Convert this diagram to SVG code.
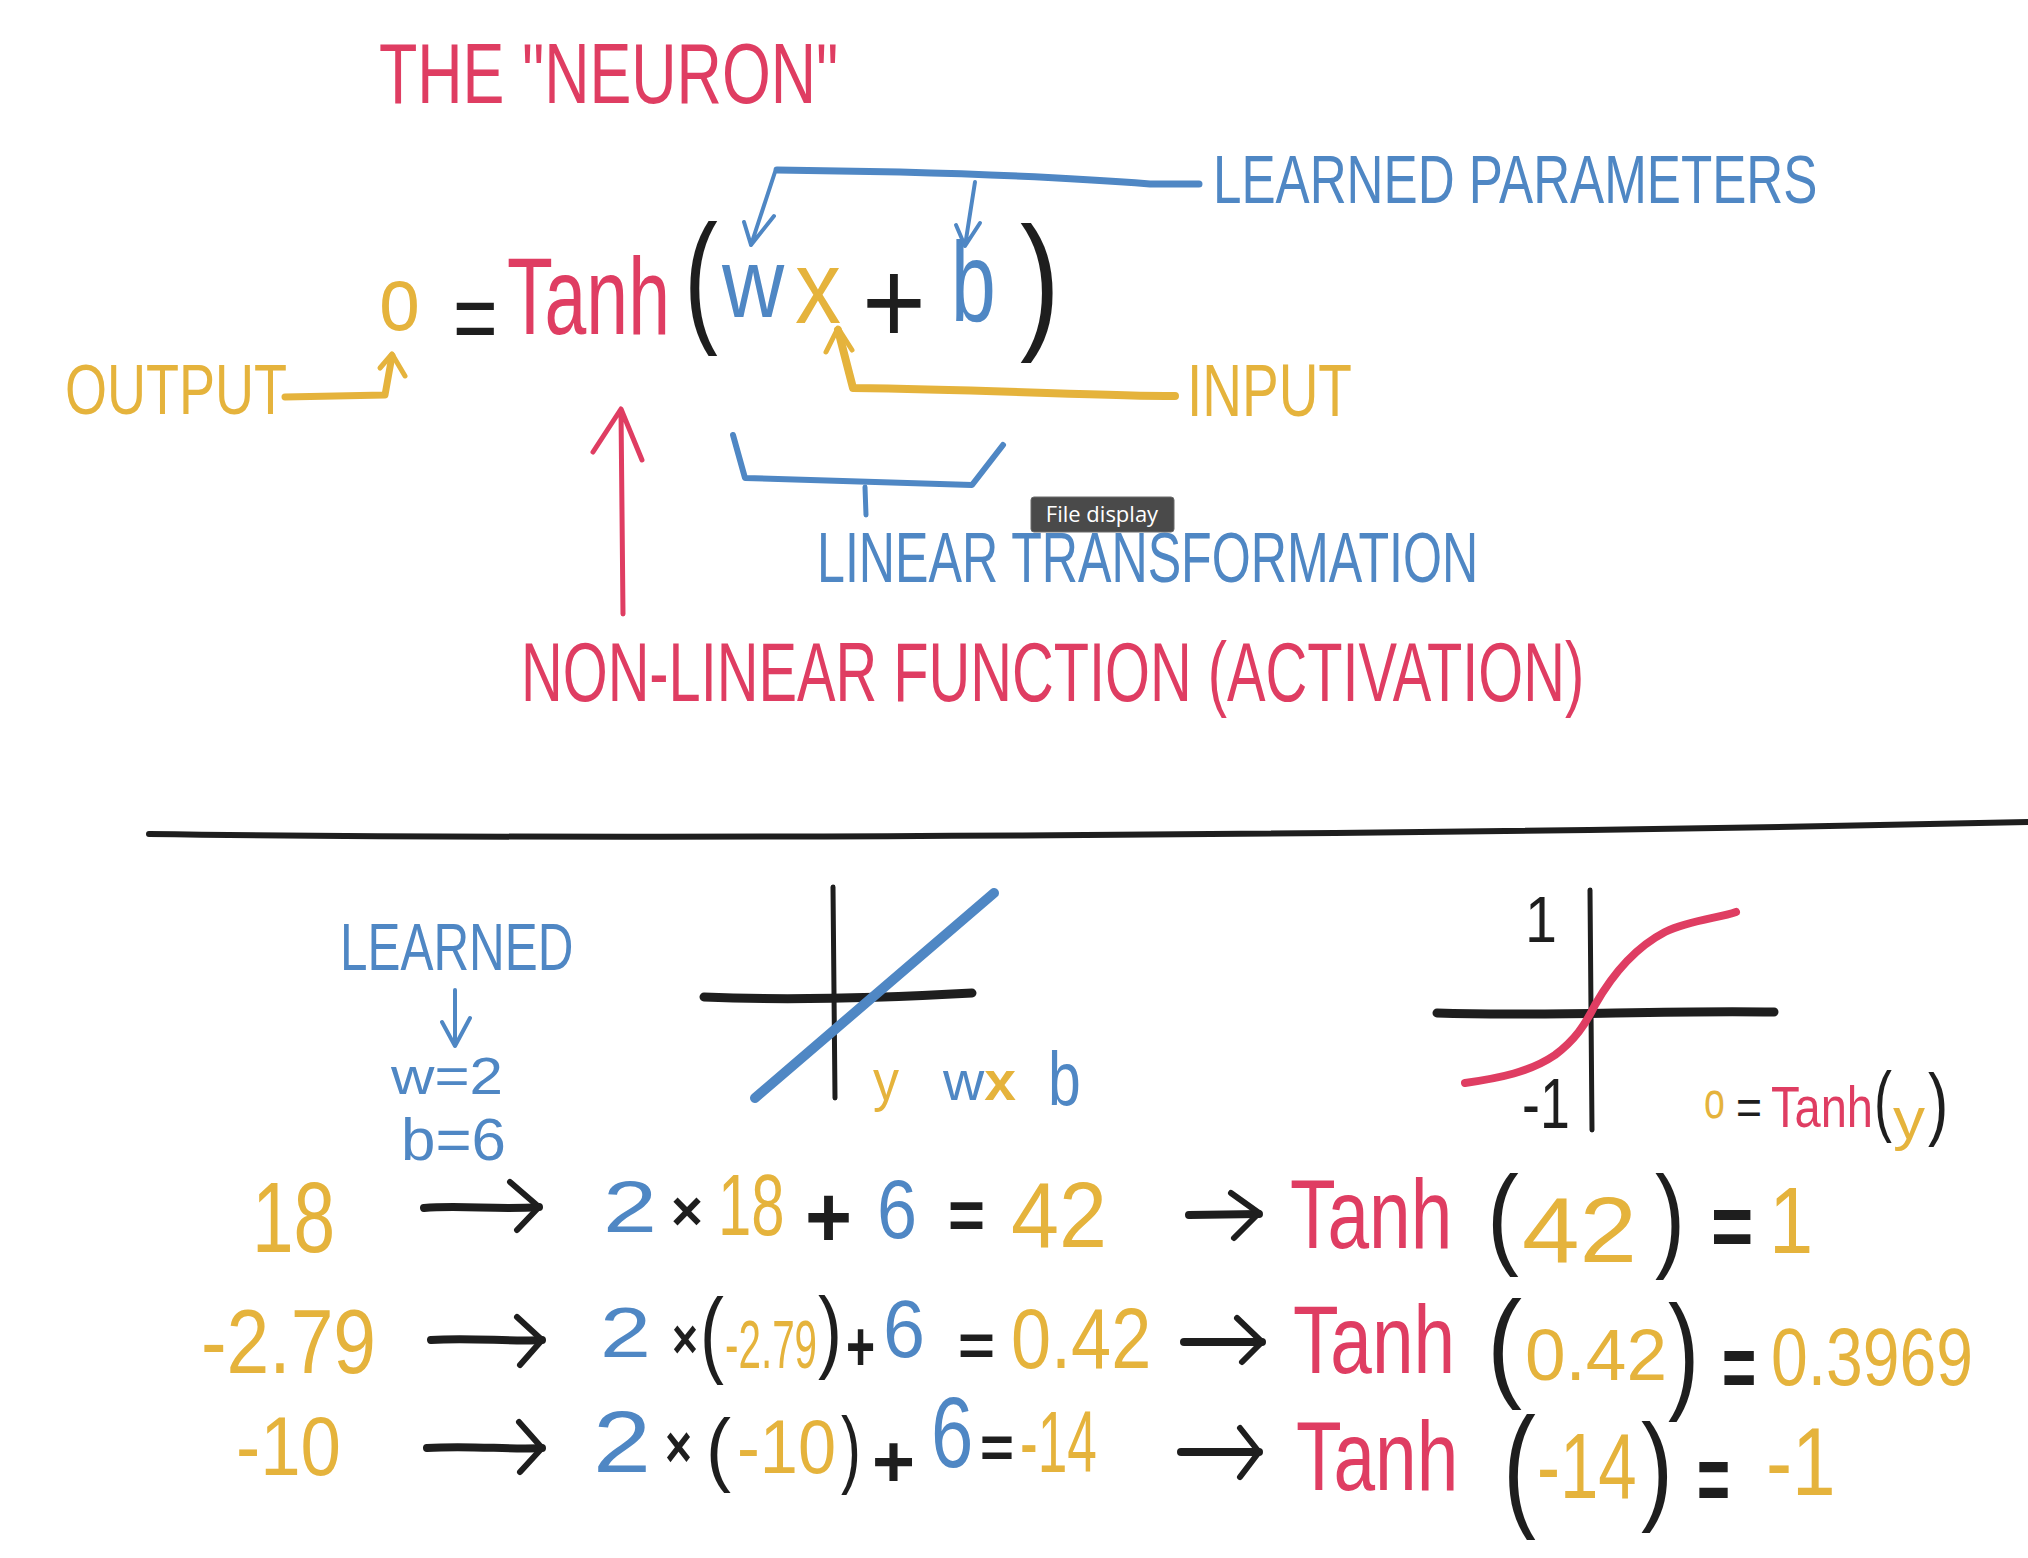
<svg xmlns="http://www.w3.org/2000/svg" width="2028" height="1558" viewBox="0 0 2028 1558">
<style>
text{font-family:"Liberation Sans",Arial,sans-serif;}
.r{fill:#DF3D62}.b{fill:#4F87C4}.y{fill:#E5B33C}.k{fill:#1E1E1E}
.bd{font-weight:bold}
.sr{stroke:#DF3D62}.sb{stroke:#4F87C4}.sy{stroke:#E5B33C}.sk{stroke:#1E1E1E}
path{fill:none;stroke-linecap:round;stroke-linejoin:round}
.tip{fill:#4A4A4A;stroke:#6a6a6a;stroke-width:1}
.tipt{fill:#fff;font-family:"Open Sans","Liberation Sans",sans-serif;font-size:22px}
</style>
<rect width="2028" height="1558" fill="#fff"/>

<g id="title"><text class="r" transform="translate(379 103) scale(0.729 1)" font-size="86" textLength="630" lengthAdjust="spacingAndGlyphs">THE "NEURON"</text></g>

<g id="equation">
<text class="y" transform="translate(379 330) scale(0.82 1)" font-size="90" textLength="50" lengthAdjust="spacingAndGlyphs">o</text>
<text class="k" transform="translate(453 352) scale(0.77 1)" font-size="100" textLength="58" lengthAdjust="spacingAndGlyphs">=</text>
<text class="r" transform="translate(507 334) scale(0.657 1)" font-size="109" textLength="248" lengthAdjust="spacingAndGlyphs">Tanh</text>
<text class="k" transform="translate(684 326) scale(0.704 1)" font-size="145" textLength="48" lengthAdjust="spacingAndGlyphs">(</text>
<text class="b" transform="translate(722 317) scale(0.876 1)" font-size="98" textLength="71" lengthAdjust="spacingAndGlyphs">w</text>
<text class="y" transform="translate(795 323) scale(0.885 1)" font-size="104" textLength="52" lengthAdjust="spacingAndGlyphs">x</text>
<text class="k" transform="translate(862 344) scale(0.913 1)" font-size="120" textLength="70" lengthAdjust="spacingAndGlyphs">+</text>
<text class="b" transform="translate(951 321) scale(0.71 1)" font-size="114" textLength="63" lengthAdjust="spacingAndGlyphs">b</text>
<text class="k" transform="translate(1020 332) scale(0.8 1)" font-size="150" textLength="50" lengthAdjust="spacingAndGlyphs">)</text>
</g>

<g id="label-learned-parameters"><text class="b" transform="translate(1213 203) scale(0.747 1)" font-size="68" textLength="809" lengthAdjust="spacingAndGlyphs">LEARNED PARAMETERS</text></g>
<g id="label-input"><text class="y" transform="translate(1187 416) scale(0.743 1)" font-size="74" textLength="222" lengthAdjust="spacingAndGlyphs">INPUT</text></g>
<g id="label-output"><text class="y" transform="translate(65 414) scale(0.771 1)" font-size="70" textLength="288" lengthAdjust="spacingAndGlyphs">OUTPUT</text></g>
<g id="label-linear"><text class="b" transform="translate(817 582) scale(0.711 1)" font-size="70" textLength="930" lengthAdjust="spacingAndGlyphs">LINEAR TRANSFORMATION</text></g>
<g id="label-nonlinear"><text class="r" transform="translate(521 701) scale(0.682 1)" font-size="84" textLength="1559" lengthAdjust="spacingAndGlyphs">NON-LINEAR FUNCTION (ACTIVATION)</text></g>

<g id="tooltip">
<rect class="tip" x="1031" y="497" width="143" height="35" rx="3"/>
<text class="tipt" x="1102" y="522" text-anchor="middle">File display</text>
</g>

<g id="connectors">
<path class="sb" stroke-width="7" d="M777 170 L900 172 Q1050 176 1150 184 L1199 184"/>
<path class="sb" stroke-width="4" d="M775 172 L751 245 M744 222 L751 245 L774 216"/>
<path class="sb" stroke-width="4" d="M975 182 L965 246 M956 225 L965 246 L980 223"/>
<path class="sy" stroke-width="8" d="M1175 396 C1100 396 1000 390 853 388 L838 330"/>
<path class="sy" stroke-width="5" d="M826 352 L838 328 L852 350"/>
<path class="sy" stroke-width="7" d="M285 397 L385 395 L392 356"/>
<path class="sy" stroke-width="5" d="M380 368 L392 354 L405 376"/>
<path class="sr" stroke-width="5" d="M623 614 L621 410 M593 452 L621 409 L642 460"/>
<path class="sb" stroke-width="6" d="M733 435 L745 478 L972 485 L1003 445"/>
<path class="sb" stroke-width="5" d="M865 487 L866 515"/>
<path class="sk" stroke-width="6" d="M149 834 C600 840 1400 836 2028 822"/>
<path class="sb" stroke-width="4" d="M455 990 L455 1045 M442 1022 L455 1046 L470 1018"/>
</g>

<g id="learned-values">
<text class="b" transform="translate(340 970) scale(0.748 1)" font-size="66" textLength="312" lengthAdjust="spacingAndGlyphs">LEARNED</text>
<text class="b" x="391" y="1094" font-size="52" textLength="112" lengthAdjust="spacingAndGlyphs">w=2</text>
<text class="b" x="401" y="1160" font-size="60" textLength="105" lengthAdjust="spacingAndGlyphs">b=6</text>
</g>

<g id="linear-graph">
<path class="sk" stroke-width="5" d="M833 887 L835 1098"/>
<path class="sk" stroke-width="9" d="M704 997 C800 1001 900 997 972 993"/>
<path class="sb" stroke-width="10" d="M755 1098 L994 893"/>
<text class="y" x="873" y="1100" font-size="58" textLength="26" lengthAdjust="spacingAndGlyphs">y</text>
<text x="943" y="1100" font-size="56" textLength="73" lengthAdjust="spacingAndGlyphs"><tspan class="b">w</tspan><tspan class="y bd">x</tspan></text>
<text class="b" transform="translate(1048 1105) scale(0.78 1)" font-size="76" textLength="42" lengthAdjust="spacingAndGlyphs">b</text>
</g>

<g id="tanh-graph">
<path class="sk" stroke-width="5" d="M1590 890 L1592 1130"/>
<path class="sk" stroke-width="9" d="M1437 1013 C1550 1017 1650 1010 1774 1012"/>
<path class="sr" stroke-width="8" d="M1465 1083 C1500 1078 1530 1072 1555 1055 C1575 1040 1585 1025 1595 1005 C1615 970 1640 945 1665 932 C1690 920 1720 918 1736 912"/>
<text class="k" x="1525" y="942" font-size="65" textLength="32" lengthAdjust="spacingAndGlyphs">1</text>
<text class="k" transform="translate(1522 1128) scale(0.77 1)" font-size="70" textLength="62" lengthAdjust="spacingAndGlyphs">-1</text>
<text class="y" transform="translate(1704 1118) scale(0.72 1)" font-size="52" textLength="29" lengthAdjust="spacingAndGlyphs">o</text>
<text class="k" x="1736" y="1124" font-size="50" textLength="26" lengthAdjust="spacingAndGlyphs">=</text>
<text class="r" transform="translate(1771 1127) scale(0.785 1)" font-size="57" textLength="130" lengthAdjust="spacingAndGlyphs">Tanh</text>
<text class="k" transform="translate(1874 1127) scale(0.69 1)" font-size="78" textLength="26" lengthAdjust="spacingAndGlyphs">(</text>
<text class="y" x="1893" y="1139" font-size="60" textLength="32" lengthAdjust="spacingAndGlyphs">y</text>
<text class="k" transform="translate(1928 1130) scale(0.75 1)" font-size="80" textLength="27" lengthAdjust="spacingAndGlyphs">)</text>
</g>

<g id="row-1">
<text class="y" transform="translate(252 1252) scale(0.75 1)" font-size="100" textLength="111" lengthAdjust="spacingAndGlyphs">18</text>
<path class="sk" stroke-width="8" d="M424 1208 C460 1205 500 1210 539 1207"/>
<path class="sk" stroke-width="6" d="M510 1182 L539 1207 L517 1230"/>
<text class="b" x="603" y="1232" font-size="72" textLength="54" lengthAdjust="spacingAndGlyphs">2</text>
<text class="k bd" x="671" y="1230" font-size="55" textLength="32" lengthAdjust="spacingAndGlyphs">×</text>
<text class="y" transform="translate(718 1235) scale(0.68 1)" font-size="88" textLength="98" lengthAdjust="spacingAndGlyphs">18</text>
<text class="k bd" x="805" y="1247" font-size="88" textLength="47" lengthAdjust="spacingAndGlyphs">+</text>
<text class="b" transform="translate(877 1238) scale(0.87 1)" font-size="83" textLength="46" lengthAdjust="spacingAndGlyphs">6</text>
<text class="k bd" x="948" y="1239" font-size="70" textLength="37" lengthAdjust="spacingAndGlyphs">=</text>
<text class="y" x="1011" y="1247" font-size="93" textLength="96" lengthAdjust="spacingAndGlyphs">42</text>
<path class="sk" stroke-width="8" d="M1189 1215 L1259 1214"/>
<path class="sk" stroke-width="6" d="M1231 1193 L1259 1213 L1234 1238"/>
<text class="r" transform="translate(1290 1248) scale(0.718 1)" font-size="99" textLength="226" lengthAdjust="spacingAndGlyphs">Tanh</text>
<text class="k" transform="translate(1487 1254) scale(0.86 1)" font-size="112" textLength="37" lengthAdjust="spacingAndGlyphs">(</text>
<text class="y" x="1522" y="1262" font-size="92" textLength="115" lengthAdjust="spacingAndGlyphs">42</text>
<text class="k" transform="translate(1655 1256) scale(0.79 1)" font-size="115" textLength="38" lengthAdjust="spacingAndGlyphs">)</text>
<text class="k bd" transform="translate(1711 1257) scale(0.8 1)" font-size="90" textLength="53" lengthAdjust="spacingAndGlyphs">=</text>
<text class="y" transform="translate(1769 1253) scale(0.85 1)" font-size="94" textLength="52" lengthAdjust="spacingAndGlyphs">1</text>
</g>

<g id="row-2">
<text class="y" transform="translate(201 1373) scale(0.854 1)" font-size="90" textLength="205" lengthAdjust="spacingAndGlyphs">-2.79</text>
<path class="sk" stroke-width="8" d="M431 1340 C470 1337 510 1342 542 1340"/>
<path class="sk" stroke-width="6" d="M517 1317 L542 1340 L520 1365"/>
<text class="b" x="600" y="1357" font-size="70" textLength="51" lengthAdjust="spacingAndGlyphs">2</text>
<text class="k bd" transform="translate(672 1358) scale(0.81 1)" font-size="55" textLength="32" lengthAdjust="spacingAndGlyphs">×</text>
<text class="k" transform="translate(700 1365) scale(0.77 1)" font-size="94" textLength="31" lengthAdjust="spacingAndGlyphs">(</text>
<text class="y" transform="translate(725 1368) scale(0.594 1)" font-size="68" textLength="155" lengthAdjust="spacingAndGlyphs">-2.79</text>
<text class="k" transform="translate(818 1361) scale(0.8 1)" font-size="90" textLength="30" lengthAdjust="spacingAndGlyphs">)</text>
<text class="k bd" transform="translate(846 1371) scale(0.71 1)" font-size="70" textLength="41" lengthAdjust="spacingAndGlyphs">+</text>
<text class="b" x="883" y="1357" font-size="82" textLength="42" lengthAdjust="spacingAndGlyphs">6</text>
<text class="k bd" x="958" y="1365" font-size="60" textLength="37" lengthAdjust="spacingAndGlyphs">=</text>
<text class="y" transform="translate(1011 1368) scale(0.84 1)" font-size="86" textLength="167" lengthAdjust="spacingAndGlyphs">0.42</text>
<path class="sk" stroke-width="8" d="M1184 1342 L1262 1342"/>
<path class="sk" stroke-width="6" d="M1237 1318 L1262 1342 L1242 1362"/>
<text class="r" transform="translate(1293 1373) scale(0.74 1)" font-size="96" textLength="219" lengthAdjust="spacingAndGlyphs">Tanh</text>
<text class="k" transform="translate(1487 1385) scale(0.875 1)" font-size="120" textLength="40" lengthAdjust="spacingAndGlyphs">(</text>
<text class="y" x="1525" y="1380" font-size="72" textLength="142" lengthAdjust="spacingAndGlyphs">0.42</text>
<text class="k" transform="translate(1668 1395) scale(0.728 1)" font-size="128" textLength="43" lengthAdjust="spacingAndGlyphs">)</text>
<text class="k bd" transform="translate(1722 1398) scale(0.646 1)" font-size="90" textLength="53" lengthAdjust="spacingAndGlyphs">=</text>
<text class="y" transform="translate(1771 1385) scale(0.805 1)" font-size="82" textLength="251" lengthAdjust="spacingAndGlyphs">0.3969</text>
</g>

<g id="row-3">
<text class="y" transform="translate(236 1475) scale(0.875 1)" font-size="83" textLength="120" lengthAdjust="spacingAndGlyphs">-10</text>
<path class="sk" stroke-width="8" d="M427 1448 C470 1445 510 1450 542 1448"/>
<path class="sk" stroke-width="6" d="M519 1422 L542 1448 L520 1472"/>
<text class="b" x="593" y="1472" font-size="88" textLength="58" lengthAdjust="spacingAndGlyphs">2</text>
<text class="k bd" transform="translate(665 1467) scale(0.77 1)" font-size="60" textLength="35" lengthAdjust="spacingAndGlyphs">×</text>
<text class="k" x="706" y="1476" font-size="81" textLength="25" lengthAdjust="spacingAndGlyphs">(</text>
<text class="y" transform="translate(737 1473) scale(0.9 1)" font-size="76" textLength="110" lengthAdjust="spacingAndGlyphs">-10</text>
<text class="k" transform="translate(841 1477) scale(0.71 1)" font-size="85" textLength="28" lengthAdjust="spacingAndGlyphs">)</text>
<text class="k bd" x="872" y="1487" font-size="75" textLength="43" lengthAdjust="spacingAndGlyphs">+</text>
<text class="b" transform="translate(931 1467) scale(0.755 1)" font-size="100" textLength="56" lengthAdjust="spacingAndGlyphs">6</text>
<text class="k bd" x="980" y="1467" font-size="60" textLength="34" lengthAdjust="spacingAndGlyphs">=</text>
<text class="y" transform="translate(1020 1472) scale(0.606 1)" font-size="88" textLength="127" lengthAdjust="spacingAndGlyphs">-14</text>
<path class="sk" stroke-width="8" d="M1181 1452 L1259 1452"/>
<path class="sk" stroke-width="6" d="M1240 1428 L1259 1452 L1240 1477"/>
<text class="r" transform="translate(1296 1490) scale(0.718 1)" font-size="99" textLength="226" lengthAdjust="spacingAndGlyphs">Tanh</text>
<text class="k" transform="translate(1503 1512) scale(0.73 1)" font-size="135" textLength="45" lengthAdjust="spacingAndGlyphs">(</text>
<text class="y" transform="translate(1537 1498) scale(0.75 1)" font-size="92" textLength="133" lengthAdjust="spacingAndGlyphs">-14</text>
<text class="k" transform="translate(1641 1508) scale(0.8 1)" font-size="120" textLength="40" lengthAdjust="spacingAndGlyphs">)</text>
<text class="k bd" transform="translate(1697 1511) scale(0.6 1)" font-size="95" textLength="55" lengthAdjust="spacingAndGlyphs">=</text>
<text class="y" transform="translate(1766 1495) scale(0.81 1)" font-size="97" textLength="86" lengthAdjust="spacingAndGlyphs">-1</text>
</g>
</svg>
